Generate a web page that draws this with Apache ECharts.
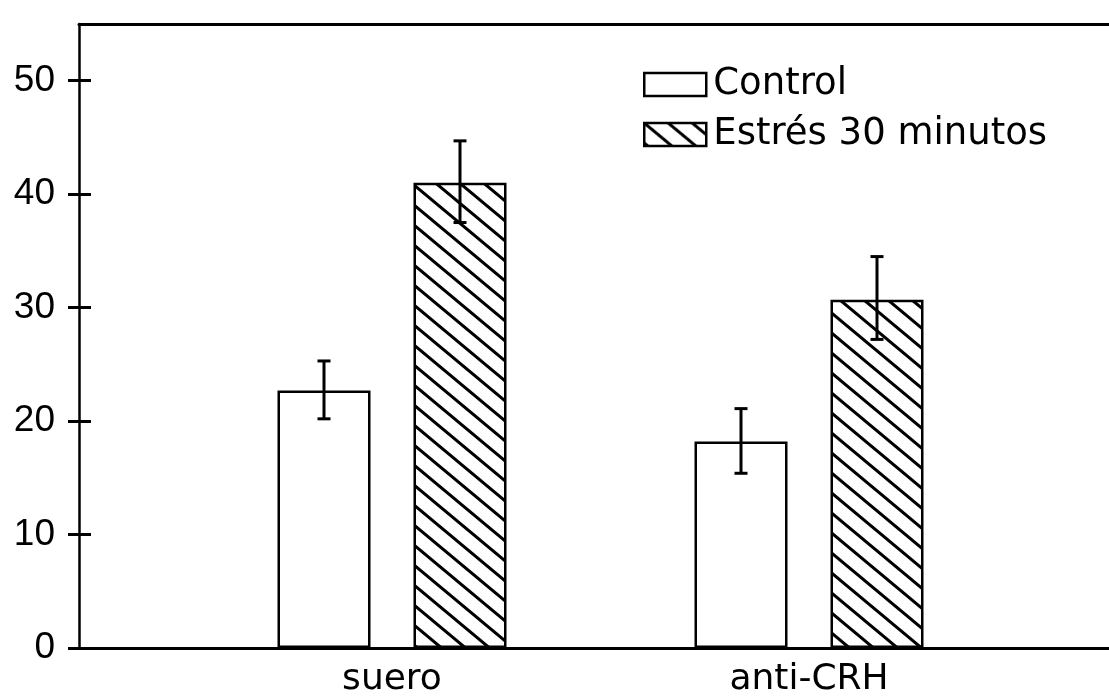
<!DOCTYPE html>
<html>
<head>
<meta charset="utf-8">
<script src="https://cdn.jsdelivr.net/npm/echarts@6/dist/echarts.min.js"></script>
<style>
  html, body { margin: 0; padding: 0; background: #fff; }
  #chart { width: 1109px; height: 698px; }
</style>
</head>
<body>
<div id="chart"></div>
<script>
const chart = echarts.init(document.getElementById('chart'));

// datos
const categories = ['suero', 'anti-CRH'];
const seriesNames = ['Control', 'Estrés 30 minutos'];
const controlValues = [22.7, 18.2];
const stressValues = [41.0, 30.7];
// barras de error [bajo, alto]
const controlErr = [[20.2, 25.3], [15.4, 21.1]];
const stressErr = [[37.5, 44.7], [27.2, 34.5]];
const yTicks = [0, 10, 20, 30, 40, 50];

const FONT = 'DejaVu Sans';
const BAR_W = 93;
const BAR_GAP = 43;

// trama diagonal para la serie de estrés
function hatch() {
  const c = document.createElement('canvas');
  const w = 24, h = 20;
  c.width = w; c.height = h;
  const ctx = c.getContext('2d');
  ctx.fillStyle = '#fff';
  ctx.fillRect(0, 0, w, h);
  ctx.strokeStyle = '#000';
  ctx.lineWidth = 3;
  [-1, 0, 1].forEach(function (k) {
    ctx.beginPath();
    ctx.moveTo(k * w - 2, -2 * h / w);
    ctx.lineTo(k * w + w + 2, h + 2 * h / w);
    ctx.stroke();
  });
  return { image: c, repeat: 'repeat' };
}

function errorSeries(name, errs, dx) {
  return {
    name: name,
    type: 'custom',
    xAxisIndex: 2,
    yAxisIndex: 2,
    z: 5,
    data: errs.map(function (e, i) { return [i, e[0], e[1]]; }),
    renderItem: function (params, api) {
      const lo = api.coord([api.value(0), api.value(1)]);
      const hi = api.coord([api.value(0), api.value(2)]);
      const x = lo[0] + dx;
      const cap = 6.5;
      const st = { stroke: '#000', lineWidth: 3 };
      return {
        type: 'group',
        children: [
          { type: 'line', shape: { x1: x, y1: lo[1], x2: x, y2: hi[1] }, style: st },
          { type: 'line', shape: { x1: x - cap, y1: lo[1], x2: x + cap, y2: lo[1] }, style: st },
          { type: 'line', shape: { x1: x - cap, y1: hi[1], x2: x + cap, y2: hi[1] }, style: st }
        ]
      };
    }
  };
}

const half = (BAR_W + BAR_GAP) / 2;
const yBase = { min: 0, max: 55, interval: 10 };

const option = {
  backgroundColor: '#fff',
  animation: false,
  legend: {
    data: seriesNames,
    orient: 'vertical',
    left: 638,
    top: 61,
    itemWidth: 62,
    itemHeight: 23,
    itemGap: 13,
    icon: 'rect',
    itemStyle: { borderColor: '#000', borderWidth: 2.5 },
    textStyle: {
      fontFamily: FONT,
      fontSize: 37,
      color: '#000',
      lineHeight: 37,
      padding: [0, 0, 0, 2]
    }
  },
  grid: [
    { left: 79, right: 0, top: 24, bottom: 50 },
    { left: 183.5, right: 91.5, top: 24, bottom: 50 }
  ],
  xAxis: [
    {
      gridIndex: 0, type: 'value', min: 0, max: 1, position: 'bottom',
      axisLine: { show: true, onZero: false, lineStyle: { color: '#000', width: 3 } },
      axisTick: { show: false }, axisLabel: { show: false }, splitLine: { show: false }
    },
    {
      gridIndex: 0, type: 'value', min: 0, max: 1, position: 'top',
      axisLine: { show: true, onZero: false, lineStyle: { color: '#000', width: 3 } },
      axisTick: { show: false }, axisLabel: { show: false }, splitLine: { show: false }
    },
    {
      gridIndex: 1, type: 'category', data: categories,
      axisLine: { show: false }, axisTick: { show: false },
      axisLabel: { color: '#000', fontFamily: FONT, fontSize: 36, margin: 14 }
    }
  ],
  yAxis: [
    {
      gridIndex: 0, type: 'value', min: yBase.min, max: yBase.max, interval: yBase.interval,
      position: 'left',
      axisLine: { show: true, lineStyle: { color: '#000', width: 2.5 } },
      axisTick: { show: true, length: 11, customValues: yTicks, lineStyle: { color: '#000', width: 3 } },
      axisLabel: {
        color: '#000', fontFamily: 'Liberation Sans', fontSize: 37, margin: 24,
        customValues: yTicks
      },
      splitLine: { show: false }
    },
    {
      gridIndex: 0, type: 'value', min: yBase.min, max: yBase.max, interval: yBase.interval,
      position: 'left',
      axisLine: { show: false },
      axisTick: { show: true, inside: true, length: 12, customValues: yTicks.slice(1), lineStyle: { color: '#000', width: 3 } },
      axisLabel: { show: false },
      splitLine: { show: false }
    },
    {
      gridIndex: 1, type: 'value', min: yBase.min, max: yBase.max, show: false
    }
  ],
  series: [
    {
      name: seriesNames[0],
      type: 'bar',
      xAxisIndex: 2, yAxisIndex: 2,
      barWidth: BAR_W,
      barGap: (BAR_GAP / BAR_W * 100) + '%',
      data: controlValues,
      itemStyle: { color: '#fff', borderColor: '#000', borderWidth: 2.5 }
    },
    {
      name: seriesNames[1],
      type: 'bar',
      xAxisIndex: 2, yAxisIndex: 2,
      barWidth: BAR_W,
      data: stressValues,
      itemStyle: { color: hatch(), borderColor: '#000', borderWidth: 2.5 }
    },
    errorSeries('errControl', controlErr, -half),
    errorSeries('errStress', stressErr, half)
  ]
};

chart.setOption(option);
</script>
</body>
</html>
